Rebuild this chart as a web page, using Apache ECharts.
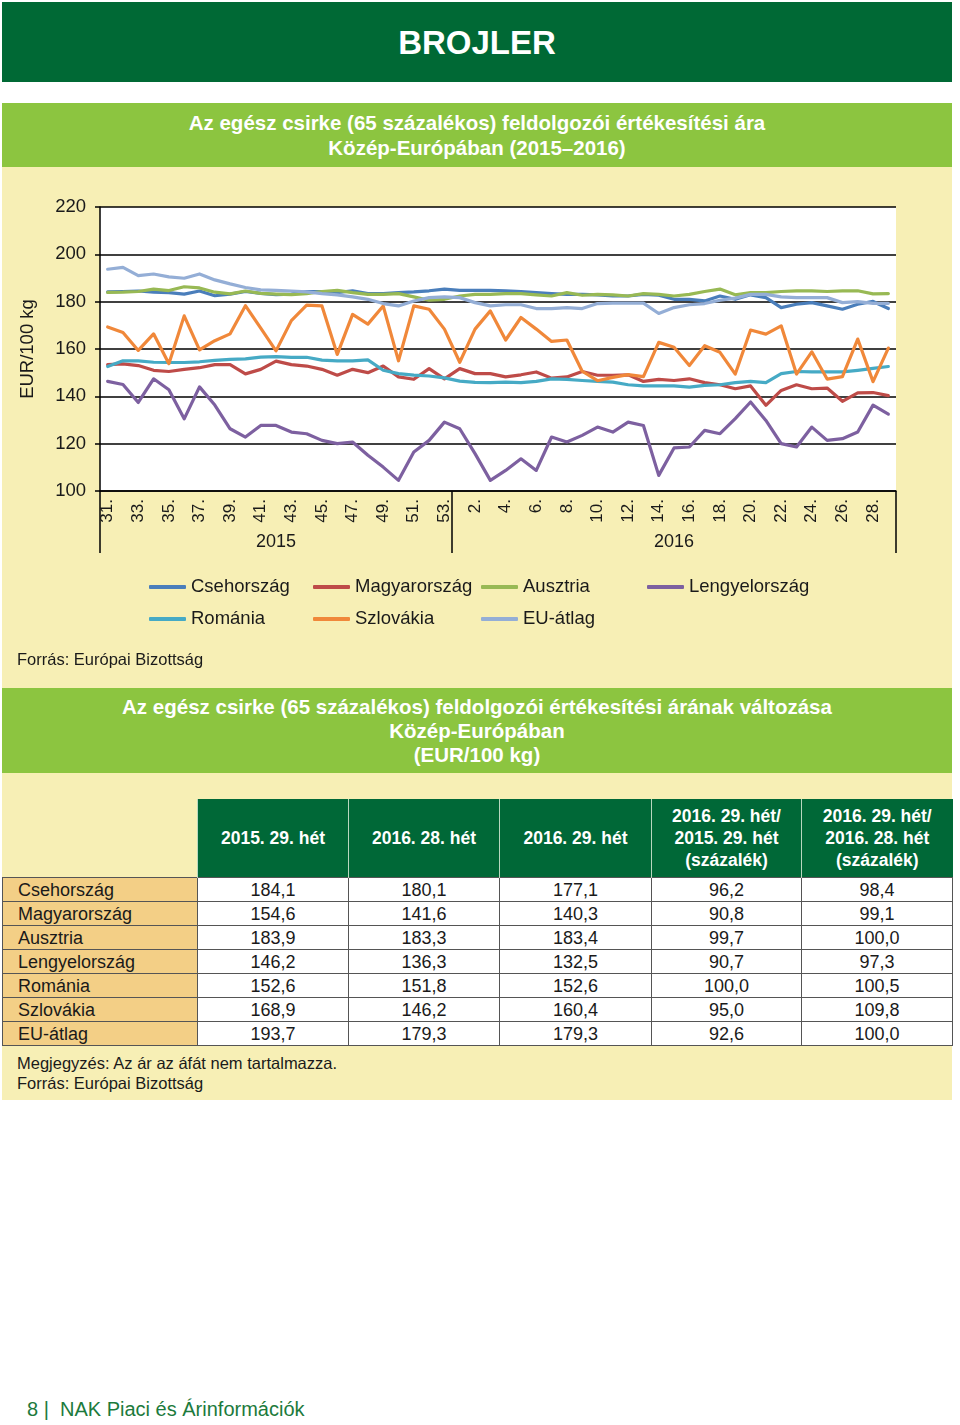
<!DOCTYPE html>
<html><head><meta charset="utf-8">
<script src="https://cdn.jsdelivr.net/npm/echarts@6/dist/echarts.min.js"></script>
<style>
html,body{margin:0;padding:0}
body{width:960px;height:1425px;background:#fff;font-family:"Liberation Sans",Arial,sans-serif;position:relative;overflow:hidden;color:#1a1a1a}
.abs{position:absolute}
#banner{left:2px;top:2px;width:950px;height:80px;background:#006935;color:#fff;font-weight:bold;font-size:33px;text-align:center;line-height:82px}
.gbar{left:2px;width:950px;background:#8cc540;color:#fff;font-weight:bold;font-size:20.5px;text-align:center}
#g1{top:103px;height:64px;padding-top:7px;box-sizing:border-box;line-height:25px}
#g2{top:688px;height:85px;padding-top:7px;box-sizing:border-box;line-height:24px}
.ypanel{left:2px;width:950px;background:#f7efb5}
#p1{top:167px;height:521px}
#p2{top:773px;height:327px}
#chart{left:0;top:167px;width:960px;height:521px}
#src1{left:17px;top:649px;font-size:16.5px;line-height:20px}
#tbl{left:2px;top:799px;border-collapse:collapse;table-layout:fixed}
#tbl th{background:#006837;color:#fff;font-weight:bold;font-size:17.5px;height:78px;padding:0;line-height:22px;border-left:1.5px solid #b9d7bf;text-align:center}
#tbl td{height:23px;padding:0;font-size:18px;border:1.5px solid #555;text-align:center;background:#fff;line-height:20px}
#tbl td.lab{background:#f3cf86;text-align:left;padding-left:15px}
#tbl td.blank{background:transparent;border:none}
#note{left:17px;top:1053px;font-size:16.5px;line-height:20px}
#foot{left:27px;top:1398px;font-size:20px;color:#1c7a3c}
</style></head>
<body>
<div id="banner" class="abs">BROJLER</div>
<div id="g1" class="abs gbar">Az egész csirke (65 százalékos) feldolgozói értékesítési ára<br>Közép-Európában (2015–2016)</div>
<div id="p1" class="abs ypanel"></div>
<div id="chart" class="abs"></div>
<div id="src1" class="abs">Forrás: Európai Bizottság</div>
<div id="g2" class="abs gbar">Az egész csirke (65 százalékos) feldolgozói értékesítési árának változása<br>Közép-Európában<br>(EUR/100 kg)</div>
<div id="p2" class="abs ypanel"></div>
<table id="tbl" class="abs"></table>
<div id="note" class="abs">Megjegyzés: Az ár az áfát nem tartalmazza.<br>Forrás: Európai Bizottság</div>
<div id="foot" class="abs">8 | &nbsp;NAK Piaci és Árinformációk</div>
<script>
// ---- chart data ----
const weeks2015 = [31,32,33,34,35,36,37,38,39,40,41,42,43,44,45,46,47,48,49,50,51,52,53];
const weeks2016 = [1,2,3,4,5,6,7,8,9,10,11,12,13,14,15,16,17,18,19,20,21,22,23,24,25,26,27,28,29];
const years = ['2015','2016'];
const seriesNames = ['Csehország','Magyarország','Ausztria','Lengyelország','Románia','Szlovákia','EU-átlag'];
const seriesColors = ['#4a7ebb','#be4b48','#98b954','#7d60a0','#46aac5','#f0883a','#94aed6'];
const csehorszag = [184.1,184.3,184.5,184.0,183.8,183.2,184.5,182.5,183.2,184.3,183.5,183.0,183.2,184.3,184.3,183.8,184.6,183.4,183.4,183.8,184.1,184.6,185.3,184.8,184.8,184.8,184.6,184.3,183.8,183.4,183.1,183.1,182.9,182.4,182.4,183.1,182.7,181.0,181.0,180.3,182.4,181.0,182.9,181.7,177.5,178.9,179.6,178.2,176.8,178.9,180.1,177.1];
const magyarorszag = [153.4,153.7,153.0,151.0,150.5,151.4,152.1,153.4,153.4,149.5,151.4,154.9,153.4,152.8,151.4,148.9,151.4,150.0,152.8,148.2,147.2,151.7,147.4,151.7,149.6,149.6,148.2,149.1,150.3,147.7,148.2,150.5,148.9,148.9,149.1,146.3,147.2,146.7,147.4,145.8,144.9,143.2,144.4,136.2,142.5,144.9,143.2,143.5,137.9,141.5,141.6,140.3];
const ausztria = [183.9,184.0,184.3,185.3,184.7,186.3,185.8,184.0,183.3,184.5,183.5,183.2,183.0,183.4,184.3,184.8,183.8,183.1,183.1,183.4,182.0,180.6,181.0,182.4,183.1,183.1,183.4,183.4,182.9,182.4,183.8,182.7,183.1,182.9,182.4,183.4,183.1,182.4,183.1,184.3,185.3,182.9,183.8,183.8,184.3,184.6,184.6,184.3,184.6,184.6,183.3,183.4];
const lengyelorszag = [146.3,145.0,137.4,147.4,142.8,130.5,144.0,136.3,126.3,122.8,127.7,127.7,124.9,124.2,121.4,120.0,120.7,115.1,110.1,104.5,116.5,121.4,129.1,126.3,115.8,104.5,108.7,113.6,108.7,122.8,120.7,123.5,127.0,124.9,129.1,127.7,106.6,118.2,118.6,125.6,124.2,130.6,137.6,129.8,120.0,118.6,127.0,121.4,122.1,124.9,136.3,132.5];
const romania = [152.6,155.0,155.0,154.4,154.3,154.3,154.6,155.2,155.6,155.8,156.6,156.8,156.5,156.5,155.3,155.0,155.0,155.4,151.0,149.6,149.0,148.6,147.8,146.4,145.9,145.8,146.0,145.8,146.3,147.4,147.2,146.7,146.3,146.0,144.9,144.4,144.4,144.4,143.9,144.6,144.9,145.8,146.3,145.8,149.6,150.5,150.3,150.3,150.3,151.0,151.8,152.6];
const szlovakia = [169.3,167.0,159.4,166.4,153.8,174.0,159.6,163.5,166.4,178.3,168.8,159.2,172.0,178.5,178.2,157.7,174.6,170.5,178.2,155.0,178.2,176.8,168.4,154.4,168.4,176.1,163.8,173.3,168.4,163.2,163.8,150.6,146.6,148.0,149.2,148.3,162.8,160.7,153.0,161.4,158.6,149.4,168.0,166.3,169.8,149.4,158.8,147.3,148.3,164.2,146.2,160.4];
const euAtlag = [193.7,194.5,191.0,191.7,190.5,189.9,191.7,189.2,187.5,186.0,185.0,184.8,184.5,184.1,183.4,182.9,182.0,181.0,179.2,178.2,180.3,181.7,182.0,181.7,179.6,178.2,178.7,178.7,177.1,177.1,177.5,177.1,179.2,179.4,179.4,179.4,175.0,177.5,178.7,179.2,180.6,181.5,183.1,183.1,182.0,181.7,181.7,181.7,179.6,180.0,179.3,179.3];
const yTicks = {min:100, max:220, step:20};

// ---- table data ----
const tableHeaders = ['2015. 29. hét','2016. 28. hét','2016. 29. hét','2016. 29. hét/<br>2015. 29. hét<br>(százalék)','2016. 29. hét/<br>2016. 28. hét<br>(százalék)'];
const tableCountries = ['Csehország','Magyarország','Ausztria','Lengyelország','Románia','Szlovákia','EU-átlag'];
const col2015w29 = ['184,1','154,6','183,9','146,2','152,6','168,9','193,7'];
const col2016w28 = ['180,1','141,6','183,3','136,3','151,8','146,2','179,3'];
const col2016w29 = ['177,1','140,3','183,4','132,5','152,6','160,4','179,3'];
const colPctYear = ['96,2','90,8','99,7','90,7','100,0','95,0','92,6'];
const colPctWeek = ['98,4','99,1','100,0','97,3','100,5','109,8','100,0'];

// build table
(function(){
  const tbl = document.getElementById('tbl');
  const widths = [195,151,151,152,150,151];
  let html = '<colgroup>' + widths.map(w=>'<col style="width:'+w+'px">').join('') + '</colgroup>';
  html += '<tr><td class="blank" style="height:78px"></td>' + tableHeaders.map(h=>'<th>'+h+'</th>').join('') + '</tr>';
  tableCountries.forEach((c,i)=>{
    html += '<tr><td class="lab">'+c+'</td><td>'+col2015w29[i]+'</td><td>'+col2016w28[i]+'</td><td>'+col2016w29[i]+'</td><td>'+colPctYear[i]+'</td><td>'+colPctWeek[i]+'</td></tr>';
  });
  tbl.innerHTML = html;
})();

// ---- chart ----
const categories = weeks2015.map(w=>w+'.').concat(weeks2016.map(w=>w+'.'));
const yearRow = categories.map(()=> '');
yearRow[Math.floor(weeks2015.length/2)] = years[0];
yearRow[weeks2015.length + Math.floor(weeks2016.length/2)] = years[1];
const allData = [csehorszag, magyarorszag, ausztria, lengyelorszag, romania, szlovakia, euAtlag];

const chart = echarts.init(document.getElementById('chart'), null, {renderer:'canvas'});
const legendBase = {orient:'vertical', itemGap:12, itemWidth:37, itemHeight:4, icon:'roundRect', padding:0,
  textStyle:{fontSize:18.5, color:'#1a1a1a', lineHeight:20, fontFamily:'Liberation Sans, Arial, sans-serif'}};
chart.setOption({
  animation:false,
  color: seriesColors,
  textStyle:{fontFamily:'Liberation Sans, Arial, sans-serif'},
  grid:{left:100, right:64, top:40, bottom:197, show:true, backgroundColor:'#ffffff', borderWidth:0},
  legend:[
    Object.assign({left:149, top:410, data:[seriesNames[0], seriesNames[4]]}, legendBase),
    Object.assign({left:313, top:410, data:[seriesNames[1], seriesNames[5]]}, legendBase),
    Object.assign({left:481, top:410, data:[seriesNames[2], seriesNames[6]]}, legendBase),
    Object.assign({left:647, top:410, data:[seriesNames[3]]}, legendBase)
  ],
  xAxis:[{
    type:'category', data:categories, boundaryGap:true,
    axisLine:{lineStyle:{color:'#000', width:1.5}},
    axisTick:{show:true, interval:(i)=> i===0 || i===weeks2015.length, length:62, lineStyle:{color:'#000', width:1.5}},
    axisLabel:{interval:1, rotate:90, fontSize:17, color:'#1a1a1a', margin:8}
  },{
    type:'category', data:yearRow, position:'bottom', boundaryGap:true,
    axisLine:{show:false}, axisTick:{show:false},
    axisLabel:{interval:0, fontSize:18, color:'#1a1a1a', margin:42}
  }],
  yAxis:{
    type:'value', min:yTicks.min, max:yTicks.max, interval:yTicks.step,
    name:'EUR/100 kg', nameLocation:'middle', nameGap:63, nameTextStyle:{fontSize:18.5, color:'#1a1a1a'},
    axisLine:{show:true, lineStyle:{color:'#000', width:1.5}},
    axisTick:{show:true, length:5, lineStyle:{color:'#000', width:1.5}},
    splitLine:{show:true, lineStyle:{color:'#000', width:1.5}},
    axisLabel:{fontSize:18.5, margin:14, color:'#1a1a1a'}
  },
  series: seriesNames.map((n,k)=>({
    name:n, type:'line', data:allData[k], xAxisIndex:0, showSymbol:false, symbol:'none',
    lineStyle:{width:3.2, color:seriesColors[k], cap:'round', join:'round'},
    itemStyle:{color:seriesColors[k]}
  }))
});
</script>
</body></html>
